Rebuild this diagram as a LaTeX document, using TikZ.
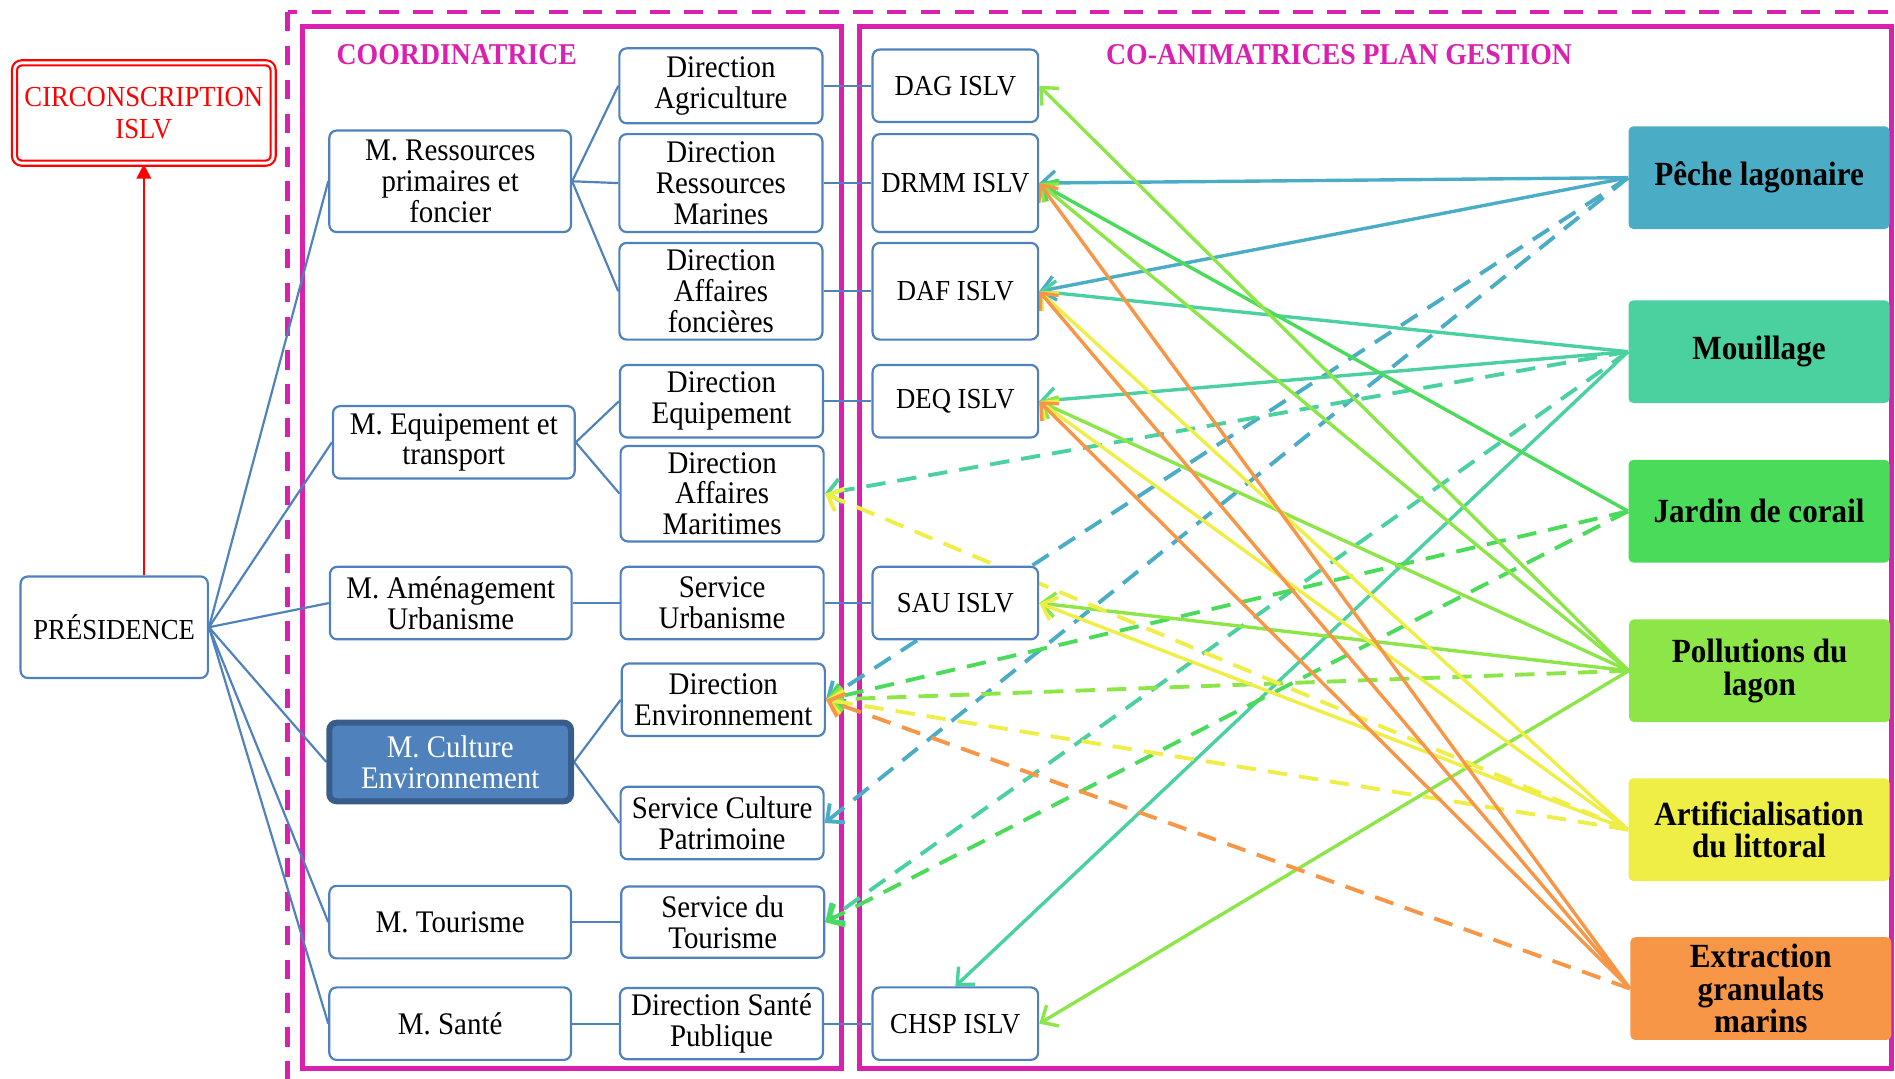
\documentclass[tikz,border=0pt]{standalone}
\usepackage{xcolor}
\usepackage{fontspec}
\setmainfont{Liberation Serif}[FakeStretch=0.92]
\usepackage{tikz}
\usetikzlibrary{arrows.meta,backgrounds}

\definecolor{cadre}{RGB}{218,32,175}
\definecolor{bleuboite}{RGB}{79,129,189}
\definecolor{bleufonce}{RGB}{56,93,138}
\definecolor{cpeche}{RGB}{75,172,198}
\definecolor{cmouil}{RGB}{75,208,160}
\definecolor{cjardin}{RGB}{74,219,90}
\definecolor{cpollu}{RGB}{140,230,72}
\definecolor{cartif}{RGB}{238,238,70}
\definecolor{cextr}{RGB}{247,150,70}

\begin{document}
\begin{tikzpicture}[x=0.5pt, y=-0.5pt,
    boite/.style={draw=bleuboite, line width=0.9pt, fill=white, rounded corners=3pt,
        align=center, inner sep=1pt, font=\fontsize{13}{12.7}\selectfont},
    mini/.style={boite, minimum width=100pt},
    dir/.style={boite, minimum width=84pt},
    islv/.style={boite, minimum width=68.5pt, font=\fontsize{12}{12.7}\selectfont},
    theme/.style={fill=#1, rounded corners=2pt, minimum width=108pt, minimum height=42.5pt,
        align=center, inner sep=1pt, font=\fontsize{14}{13.5}\selectfont\bfseries},
    titre/.style={text=cadre, font=\fontsize{12.5}{13}\selectfont\bfseries},
    lien/.style={draw=bleuboite, line width=0.9pt},
    fleche/.style={draw=#1, line width=1.4pt, -{Straight Barb[length=5.5pt,width=10pt]}},
    pointille/.style={fleche=#1, line width=1.6pt, dash pattern=on 8pt off 5pt},
    % every node/.style={draw}
]
    \useasboundingbox (0,0) rectangle (1568,892.8);

    \begin{scope}[on background layer]
        \begin{scope}
            \clip (0,0) rectangle (1568,892.8);
            \draw[cadre, line width=2pt, dash pattern=on 8pt off 6pt] (238,10) rectangle (1600,920);
        \end{scope}
        \draw[cadre, line width=2pt] (250,22) rectangle (696,884);
        \draw[cadre, line width=2pt] (711,22) rectangle (1565,884);
    \end{scope}

    \node[titre] (titcoord) at (378,45) {COORDINATRICE};
    \node[titre] (titcoan) at (1108,45) {CO-ANIMATRICES PLAN GESTION};

    \node[boite, minimum width=107pt, minimum height=41.5pt, draw=red, double=white,
        double distance=1.2pt, text=red, font=\fontsize{12}{13}\selectfont] (circ) at (119,93.5) {CIRCONSCRIPTION\\ISLV};
    \node[boite, minimum width=77.5pt, minimum height=42pt, font=\fontsize{12}{13}\selectfont] (pres) at (94.5,519) {PRÉSIDENCE};

    \node[mini, minimum height=42pt] (mres) at (372.5,150) {M. Ressources\\primaires et\\foncier};
    \node[mini, minimum height=30pt] (mequ) at (375.5,366) {M. Equipement et\\transport};
    \node[mini, minimum height=30pt] (mame) at (373,499) {M. Aménagement\\Urbanisme};
    \node[mini, minimum height=32.5pt, fill=bleuboite, draw=bleufonce, line width=2.5pt,
        text=white] (mcul) at (372.5,630.5) {M. Culture\\Environnement};
    \node[mini, minimum height=30pt] (mtou) at (372.5,763) {M. Tourisme};
    \node[mini, minimum height=30pt] (msan) at (372.5,847) {M. Santé};

    \node[dir, minimum height=31pt] (dagr) at (596.5,71) {Direction\\Agriculture};
    \node[dir, minimum height=40.5pt] (dres) at (596.5,151.5) {Direction\\Ressources\\Marines};
    \node[dir, minimum height=40pt] (daff) at (596.5,241) {Direction\\Affaires\\foncières};
    \node[dir, minimum height=30pt] (dequ) at (597,332) {Direction\\Equipement};
    \node[dir, minimum height=39.5pt] (dmar) at (597.5,408.5) {Direction\\Affaires\\Maritimes};
    \node[dir, minimum height=30pt] (surb) at (597.5,499) {Service\\Urbanisme};
    \node[dir, minimum height=30pt] (denv) at (598.5,579) {Direction\\Environnement};
    \node[dir, minimum height=30pt] (scul) at (597.5,681) {Service Culture\\Patrimoine};
    \node[dir, minimum height=29.5pt] (stou) at (598,763) {Service du\\Tourisme};
    \node[dir, minimum height=29.5pt] (dsan) at (597,847) {Direction Santé\\Publique};

    \node[islv, minimum height=30pt] (dag) at (790.5,71) {DAG ISLV};
    \node[islv, minimum height=40.5pt] (drmm) at (790.5,151.5) {DRMM ISLV};
    \node[islv, minimum height=40pt] (daf) at (790.5,241) {DAF ISLV};
    \node[islv, minimum height=30pt] (deq) at (790.5,332) {DEQ ISLV};
    \node[islv, minimum height=30pt] (sau) at (790.5,499) {SAU ISLV};
    \node[islv, minimum height=30pt] (chsp) at (790.5,847) {CHSP ISLV};

    \node[theme=cpeche] (peche) at (1455.5,147) {Pêche lagonaire};
    \node[theme=cmouil] (mouil) at (1455.5,291) {Mouillage};
    \node[theme=cjardin] (jardin) at (1455.5,423) {Jardin de corail};
    \node[theme=cpollu] (pollu) at (1456,555) {Pollutions du\\lagon};
    \node[theme=cartif] (artif) at (1455.5,686.5) {Artificialisation\\du littoral};
    \node[theme=cextr] (extr) at (1457,818) {Extraction\\granulats\\marins};

    \begin{scope}[on background layer]
        \draw[red, line width=1pt, -{Triangle[length=6pt,width=6pt]}] (circ.south |- pres.north) -- (circ.south);

        \foreach \m in {mres,mequ,mame,mcul,mtou,msan}
            \draw[lien] (pres.east) -- (\m.west);
        \foreach \d in {dagr,dres,daff}
            \draw[lien] (mres.east) -- (\d.west);
        \foreach \d in {dequ,dmar}
            \draw[lien] (mequ.east) -- (\d.west);
        \foreach \d in {denv,scul}
            \draw[lien] (mcul.east) -- (\d.west);
        \draw[lien] (mame.east) -- (surb.west);
        \draw[lien] (mtou.east) -- (stou.west);
        \draw[lien] (msan.east) -- (dsan.west);

        \draw[lien] (dagr.east) -- (dag.west);
        \draw[lien] (dres.east) -- (drmm.west);
        \draw[lien] (daff.east) -- (daf.west);
        \draw[lien] (dequ.east) -- (deq.west);
        \draw[lien] (surb.east) -- (sau.west);
        \draw[lien] (dsan.east) -- (chsp.west);

        % peche lagonaire
        \foreach \c in {drmm,daf}
            \draw[fleche=cpeche] (peche.west) -- (\c.east);
        \foreach \c in {denv,scul}
            \draw[pointille=cpeche] (peche.west) -- (\c.east);
        % mouillage
        \foreach \c in {daf,deq}
            \draw[fleche=cmouil] (mouil.west) -- (\c.east);
        \draw[fleche=cmouil] (mouil.west) -- (chsp.north);
        \foreach \c in {dmar,stou}
            \draw[pointille=cmouil] (mouil.west) -- (\c.east);
        % jardin de corail
        \draw[fleche=cjardin] (jardin.west) -- (drmm.east);
        \foreach \c in {denv,stou}
            \draw[pointille=cjardin] (jardin.west) -- (\c.east);
        % pollutions
        \foreach \c in {dag,drmm,deq,sau,chsp}
            \draw[fleche=cpollu] (pollu.west) -- (\c.east);
        \draw[pointille=cpollu] (pollu.west) -- (denv.east);
        % artificialisation
        \foreach \c in {daf,deq,sau}
            \draw[fleche=cartif] (artif.west) -- (\c.east);
        \foreach \c in {dmar,denv}
            \draw[pointille=cartif] (artif.west) -- (\c.east);
        % extraction
        \foreach \c in {drmm,daf,deq}
            \draw[fleche=cextr] (extr.west) -- (\c.east);
        \draw[pointille=cextr] (extr.west) -- (denv.east);
    \end{scope}

\end{tikzpicture}
\end{document}
